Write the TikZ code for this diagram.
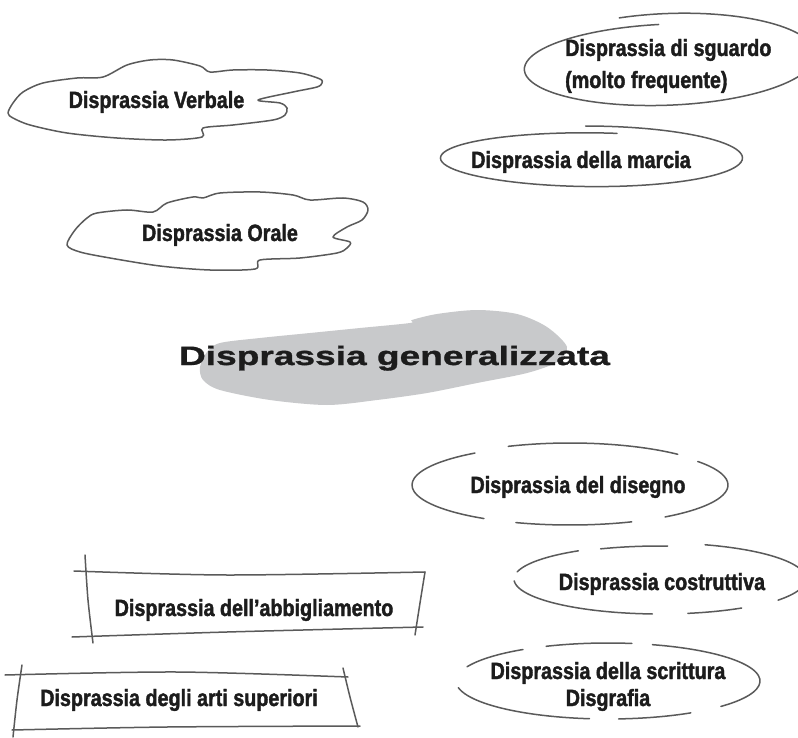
\documentclass[tikz,border=0pt]{standalone}
\usepackage{fontspec}
\newfontfamily\condfont{Liberation Sans}[FakeStretch=0.84,FakeBold=1.6]
\newfontfamily\widefont{Liberation Sans}[FakeStretch=1.40,FakeBold=1.2]
\definecolor{ink}{RGB}{28,28,28}
\definecolor{pen}{RGB}{90,90,90}
\definecolor{blobgray}{RGB}{200,201,203}
\tikzset{
  sk/.style={draw=pen,line width=1.5pt,line cap=round,line join=round},
  lab/.style={anchor=base,text=ink,inner sep=0pt,font=\condfont\bfseries\fontsize{23.5}{32}\selectfont},
  titlelab/.style={anchor=base,text=ink,inner sep=0pt,font=\widefont\bfseries\fontsize{26.5}{30}\selectfont}
}
\newcommand\ovseg[6]{\draw[sk] plot[domain=#5:#6,samples=24,smooth] ({#1+#3*cos(\x)},{#2-#4*sin(\x)});}
\newcommand\spiral[8]{\draw[sk] plot[domain=#7:#8,samples=90,smooth] ({#1+(#3+(#4-#3)*(\x-#7)/(#8-#7))*cos(\x)},{#2-(#5+(#6-#5)*(\x-#7)/(#8-#7))*sin(\x)});}
\begin{document}
\begin{tikzpicture}[x=1pt,y=-1pt]
\useasboundingbox (0,0) rectangle (798,738);
\clip (0,0) rectangle (798,738);
\fill[white] (0,0) rectangle (798,738);

% cloud Verbale
\draw[sk] plot[smooth cycle,tension=0.5] coordinates {
 (8,113) (13,103) (23,92) (43,83) (77,78) (103,77) (127,65) (150,60) (173,60) (200,66) (210,72)
 (233,70) (267,70) (300,73) (320,79) (322,83) (317,87) (293,92) (258,100) (280,103) (287,108)
 (285,115) (273,120) (233,125) (203,128) (202,137) (167,140) (117,138) (67,133) (30,125) (13,118)};
\node[lab] (verbale) at (156.5,108) {Disprassia Verbale};

% cloud Orale
\draw[sk] plot[smooth cycle,tension=0.5] coordinates {
 (67,245) (75,230) (87,218) (97,213) (127,210) (153,212) (167,203) (193,197) (203,198) (220,193)
 (260,192) (293,195) (310,200) (343,198) (363,202) (368,210) (362,220) (347,227) (333,237)
 (350,242) (347,248) (337,253) (300,258) (260,260) (255,269) (210,270) (160,266) (110,258) (80,252)};
\node[lab] (orale) at (220,241) {Disprassia Orale};

% spiral ovals
\begin{scope}[rotate around={3:(668,62)}]
\spiral{668}{62}{142}{150}{38}{49}{93}{468}
\end{scope}
\node[lab,anchor=base west,align=left] (sguardo) at (565,88) {Disprassia di sguardo\\(molto frequente)};

\spiral{591}{158}{150}{152}{25}{32}{80}{452}
\node[lab] (marcia) at (581,168) {Disprassia della marcia};

% title blob
\fill[blobgray] plot[smooth cycle,tension=0.5] coordinates {
 (200,367) (207,352) (220,343) (260,338) (310,333) (360,328) (410,323) (412,320) (437,314)
 (477,310) (517,314) (547,327) (567,347) (557,362) (527,373) (477,383) (427,393) (377,400)
 (327,405) (270,400) (220,390) (203,380)};
\node[titlelab] (titolo) at (394.5,365) {Disprassia generalizzata};

% disegno
\ovseg{570}{485}{158}{40}{127}{237}
\ovseg{570}{485}{158}{42}{47}{113}
\ovseg{570}{485}{158}{40}{-53}{36}
\ovseg{570}{485}{158}{40}{250}{293}
\node[lab] (disegno) at (578,493) {Disprassia del disegno};

% costruttiva
\ovseg{660}{579}{146}{34}{124}{168}
\ovseg{660}{579}{146}{33}{87}{114}
\ovseg{660}{579}{146}{36}{-36}{72}
\ovseg{660}{579}{146}{35}{183}{267}
\ovseg{660}{579}{146}{35}{281}{304}
\node[lab] (costruttiva) at (662,590) {Disprassia costruttiva};

% scrittura
\ovseg{608}{681}{152}{38}{124}{158}
\ovseg{608}{681}{152}{38}{81}{114}
\ovseg{608}{681}{152}{38}{-42}{73}
\ovseg{608}{681}{152}{38}{190}{263}
\ovseg{608}{681}{152}{38}{274}{303}
\node[lab,align=center,font=\condfont\bfseries\fontsize{23.5}{27}\selectfont] (scrittura) at (608,706) {Disprassia della scrittura\\Disgrafia};

% abbigliamento banner
\draw[sk] plot[smooth] coordinates {(74,571) (227,575) (425,572)};
\draw[sk] plot[smooth] coordinates {(72,637) (227,632) (423,627)};
\draw[sk] plot[smooth] coordinates {(85,555) (88,600) (93,643)};
\draw[sk] plot[smooth] coordinates {(425,572) (420,603) (415,635)};
\node[lab] (abbigliamento) at (254,616) {Disprassia dell’abbigliamento};

% arti superiori banner
\draw[sk] plot[smooth] coordinates {(5,675) (177,672) (348,677)};
\draw[sk] plot[smooth] coordinates {(12,730) (167,727) (360,726)};
\draw[sk] plot[smooth] coordinates {(22,665) (17,700) (13,737)};
\draw[sk] plot[smooth] coordinates {(343,668) (350,697) (358,727)};
\node[lab] (arti) at (179,706) {Disprassia degli arti superiori};
\end{tikzpicture}
\end{document}
